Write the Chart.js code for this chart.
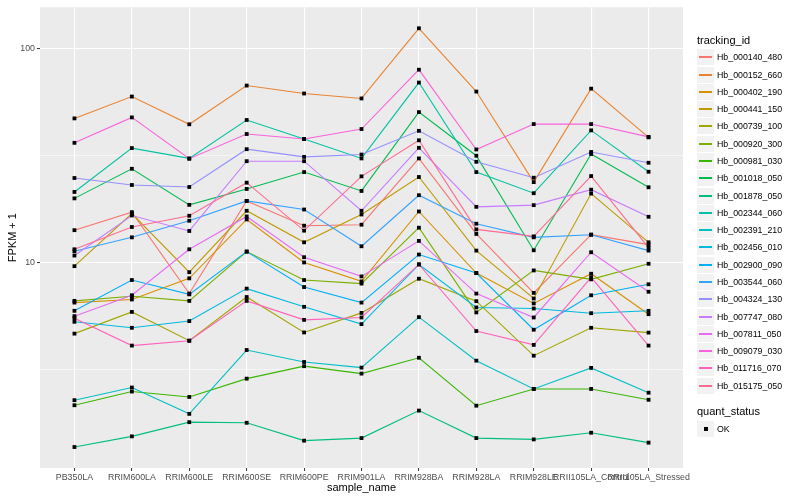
<!DOCTYPE html>
<html>
<head>
<meta charset="utf-8">
<script src="https://cdn.jsdelivr.net/npm/chart.js@4.4.1/dist/chart.umd.min.js"></script>
<style>
    html, body { margin: 0; padding: 0; background: #ffffff; }
    #contenedor { position: relative; width: 800px; height: 500px; font-family: "Liberation Sans", Arial, sans-serif; }
    #grafico { position: absolute; left: 0; top: 0; }
    .titulo { position: absolute; left: 697px; font-size: 11px; line-height: 13px; color: #000; white-space: nowrap; }
    .caja { position: absolute; left: 697px; width: 17px; height: 16px; background: #f2f2f2; }
    .raya { position: absolute; left: 2px; top: 7px; width: 13px; height: 2px; }
    .punto { position: absolute; left: 7px; top: 6px; width: 4px; height: 4px; background: #000; }
    .texto { position: absolute; left: 717px; font-size: 8.8px; line-height: 10px; color: #000; white-space: nowrap; }
</style>
</head>
<body>
<div id="contenedor">
    <canvas id="grafico" width="800" height="500"></canvas>
    <div id="leyenda"></div>
</div>
<script>
const muestras = ["PB350LA", "RRIM600LA", "RRIM600LE", "RRIM600SE", "RRIM600PE", "RRIM901LA",
    "RRIM928BA", "RRIM928LA", "RRIM928LE", "RRII105LA_Control", "RRII105LA_Stressed"];

const ids = ["Hb_000140_480", "Hb_000152_660", "Hb_000402_190", "Hb_000441_150", "Hb_000739_100",
    "Hb_000920_300", "Hb_000981_030", "Hb_001018_050", "Hb_001878_050", "Hb_002344_060",
    "Hb_002391_210", "Hb_002456_010", "Hb_002900_090", "Hb_003544_060", "Hb_004324_130",
    "Hb_007747_080", "Hb_007811_050", "Hb_009079_030", "Hb_011716_070", "Hb_015175_050"];

// FPKM + 1 por muestra
const hb_000140_480 = [14.12, 17.15, 7.13, 19.36, 14.82, 14.98, 30.6, 13.56, 7.18, 13.45, 12.08];
const hb_000152_660 = [47.1, 59.6, 44.2, 67.1, 61.6, 58.4, 124.4, 62.9, 23.7, 64.9, 38.4];
const hb_000402_190 = [6.47, 6.69, 8.40, 15.85, 9.97, 8.13, 17.27, 8.89, 6.41, 8.83, 5.71];
const hb_000441_150 = [9.58, 16.90, 8.98, 17.40, 12.39, 16.72, 25.04, 11.33, 6.76, 20.94, 12.39];
const hb_000739_100 = [4.63, 5.85, 4.29, 6.87, 4.69, 5.79, 8.37, 6.57, 3.65, 4.93, 4.68];
const hb_000920_300 = [6.59, 6.93, 6.59, 11.21, 8.25, 7.94, 14.50, 5.82, 9.15, 8.31, 9.83];
const hb_000981_030 = [2.14, 2.48, 2.34, 2.85, 3.26, 3.01, 3.57, 2.13, 2.55, 2.55, 2.27];
const hb_001018_050 = [19.89, 27.36, 18.55, 22.02, 26.41, 21.55, 50.4, 31.5, 11.37, 32.1, 22.42];
const hb_001878_050 = [1.364, 1.530, 1.783, 1.771, 1.461, 1.502, 2.02, 1.502, 1.481, 1.591, 1.430];
const hb_002344_060 = [21.32, 34.2, 30.6, 46.3, 37.7, 30.6, 69.3, 26.41, 21.03, 41.4, 26.5];
const hb_002391_210 = [2.26, 2.59, 1.95, 3.88, 3.41, 3.21, 5.53, 3.46, 2.55, 3.20, 2.45];
const hb_002456_010 = [5.26, 4.93, 5.30, 7.52, 6.18, 5.13, 9.76, 6.14, 6.07, 5.77, 5.92];
const hb_002900_090 = [5.92, 8.25, 7.07, 11.21, 7.65, 6.47, 10.86, 8.89, 4.83, 7.00, 7.88];
const hb_003544_060 = [11.25, 13.07, 15.63, 19.36, 17.64, 11.87, 20.58, 15.14, 13.07, 13.45, 11.33];
const hb_004324_130 = [24.77, 22.98, 22.49, 33.8, 31.1, 31.9, 41.2, 29.5, 24.85, 32.8, 29.2];
const hb_007747_080 = [10.74, 16.54, 14.00, 29.7, 29.7, 17.40, 34.3, 18.16, 18.49, 21.85, 16.31];
const hb_007811_050 = [5.59, 7.00, 11.49, 16.37, 10.55, 8.58, 12.58, 7.13, 5.51, 11.13, 7.27];
const hb_009079_030 = [36.2, 47.6, 30.5, 39.8, 37.7, 42.0, 79.6, 33.7, 44.3, 44.3, 38.6];
const hb_011716_070 = [5.47, 4.07, 4.29, 6.59, 5.37, 5.51, 9.76, 4.76, 4.10, 8.49, 4.07];
const hb_015175_050 = [11.49, 14.61, 16.49, 23.56, 14.05, 25.22, 37.2, 14.24, 13.21, 25.30, 11.70];

const valores = [hb_000140_480, hb_000152_660, hb_000402_190, hb_000441_150, hb_000739_100,
    hb_000920_300, hb_000981_030, hb_001018_050, hb_001878_050, hb_002344_060,
    hb_002391_210, hb_002456_010, hb_002900_090, hb_003544_060, hb_004324_130,
    hb_007747_080, hb_007811_050, hb_009079_030, hb_011716_070, hb_015175_050];

const colores = ["#F8766D", "#EA8331", "#D89000", "#C09B00", "#A3A500", "#7CAE00", "#39B600",
    "#00BB4E", "#00BF7D", "#00C1A3", "#00BFC4", "#00BAE0", "#00B0F6", "#35A2FF", "#9590FF",
    "#C77CFF", "#E76BF3", "#FA62DB", "#FF62BC", "#FF6C91"];

const marcasY = [10, 100];
const marcasMenoresY = [3.1623, 31.623];
const estados = ["OK"];

const fondoPanel = {
    id: "fondoPanel",
    beforeDraw(chart) {
        const a = chart.chartArea;
        chart.ctx.save();
        chart.ctx.fillStyle = "#EBEBEB";
        chart.ctx.fillRect(a.left, a.top, a.right - a.left, a.bottom - a.top);
        chart.ctx.restore();
    }
};

// los puntos van encima de todas las lineas, como en ggplot
const puntosNegros = {
    id: "puntosNegros",
    afterDatasetsDraw(chart) {
        const ctx = chart.ctx;
        ctx.save();
        ctx.fillStyle = "#000000";
        chart.data.datasets.forEach((d, i) => {
            chart.getDatasetMeta(i).data.forEach(p => {
                ctx.fillRect(p.x - 1.9, p.y - 1.9, 3.8, 3.8);
            });
        });
        ctx.restore();
    }
};

function crearDatasets() {
    return ids.map((id, i) => ({
        label: id,
        data: valores[i].map((v, j) => ({ x: j, y: v })),
        borderColor: colores[i],
        borderWidth: 1.1,
        pointRadius: 0,
        tension: 0,
        fill: false,
        order: ids.length - i
    }));
}

function renderLeyenda() {
    const leyenda = document.getElementById("leyenda");
    let html = `<div class="titulo" style="top:34px">tracking_id</div>`;
    ids.forEach((id, i) => {
        const y = Math.round(57.3 + i * 17.28);
        html += `
            <div class="caja" style="top:${y - 8}px"><div class="raya" style="background:${colores[i]}"></div></div>
            <div class="texto" style="top:${y - 5}px">${id}</div>
        `;
    });
    html += `<div class="titulo" style="top:405px">quant_status</div>`;
    estados.forEach((e, i) => {
        const y = 429 + i * 17;
        html += `
            <div class="caja" style="top:${y - 8}px"><div class="punto"></div></div>
            <div class="texto" style="top:${y - 5}px">${e}</div>
        `;
    });
    leyenda.innerHTML = html;
}

const ctx = document.getElementById("grafico");

new Chart(ctx, {
    type: "line",
    data: { datasets: crearDatasets() },
    options: {
        responsive: false,
        animation: false,
        layout: { padding: { left: 0, top: 5, right: 117, bottom: 0 } },
        plugins: {
            legend: { display: false },
            tooltip: { enabled: false }
        },
        scales: {
            x: {
                type: "linear",
                min: -0.6,
                max: 10.6,
                afterBuildTicks: s => { s.ticks = muestras.map((m, i) => ({ value: i })); },
                afterFit: s => { s.height = 32; },
                ticks: {
                    autoSkip: false,
                    maxRotation: 0,
                    minRotation: 0,
                    padding: 1,
                    color: "#4D4D4D",
                    font: { family: "Liberation Sans", size: 8.8 },
                    callback: v => muestras[v]
                },
                grid: { color: "#FFFFFF", lineWidth: 1.1, tickLength: 3, tickColor: "#333333", tickWidth: 1 },
                border: { display: false },
                title: {
                    display: true,
                    text: "sample_name",
                    color: "#000000",
                    font: { family: "Liberation Sans", size: 11 },
                    padding: { top: 0, bottom: 5 }
                }
            },
            y: {
                type: "logarithmic",
                min: 1.088,
                max: 156,
                afterBuildTicks: s => {
                    s.ticks = marcasMenoresY.concat(marcasY).sort((a, b) => a - b).map(v => ({ value: v }));
                },
                afterFit: s => { s.width = 40; },
                ticks: {
                    padding: 2,
                    color: "#4D4D4D",
                    font: { family: "Liberation Sans", size: 8.8 },
                    callback: v => marcasY.includes(v) ? String(v) : ""
                },
                grid: {
                    color: "#FFFFFF",
                    lineWidth: c => marcasY.includes(c.tick.value) ? 1.1 : 0.55,
                    tickLength: 3,
                    tickColor: c => marcasY.includes(c.tick.value) ? "#333333" : "rgba(0,0,0,0)",
                    tickWidth: 1
                },
                border: { display: false },
                title: {
                    display: true,
                    text: "FPKM + 1",
                    color: "#000000",
                    font: { family: "Liberation Sans", size: 11 },
                    padding: { top: 6, bottom: 0 }
                }
            }
        }
    },
    plugins: [fondoPanel, puntosNegros]
});

renderLeyenda();
</script>
</body>
</html>
